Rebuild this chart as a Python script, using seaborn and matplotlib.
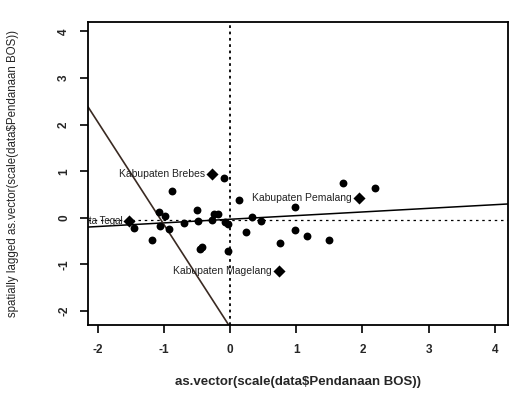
import matplotlib
matplotlib.use("Agg")
import matplotlib.pyplot as plt
import seaborn as sns
import numpy as np
import pandas as pd

# Data
x_vals = [-0.09, -0.88, 0.13, -1.07, -0.98, -0.51, -0.24, -0.18, -1.46, -1.06,
          -0.92, -0.70, -0.48, -0.28, -0.08, -0.04, -1.18, -0.45, -0.43, -0.03,
          0.33, 0.47, 0.24, 0.75, 0.98, 1.16, 0.98, 1.71, 2.19, 1.50]
wx_vals = [0.85, 0.57, 0.39, 0.12, 0.04, 0.17, 0.09, 0.09, -0.22, -0.18,
           -0.23, -0.12, -0.07, -0.05, -0.09, -0.14, -0.48, -0.67, -0.62, -0.72,
           0.02, -0.07, -0.31, -0.54, -0.27, -0.38, 0.24, 0.74, 0.63, -0.48]

infl_names = ["Kabupaten Brebes", "Kota Tegal", "Kabupaten Pemalang", "Kabupaten Magelang"]
infl_x = [-0.28, -1.53, 1.94, 0.73]
infl_wx = [0.95, -0.07, 0.43, -1.15]

reg_intercept, reg_slope = -0.03, 0.078
steep_intercept, steep_slope = -2.35, -2.2
x_mean, wx_mean = 0.0, -0.05

x_ticks = [-2, -1, 0, 1, 2, 3, 4]
y_ticks = [-2, -1, 0, 1, 2, 3, 4]

points = pd.DataFrame({"x": x_vals, "wx": wx_vals})
infl = pd.DataFrame({"name": infl_names, "x": infl_x, "wx": infl_wx})

sns.set_theme(style="ticks")
plt.rcParams['font.family'] = ['Liberation Sans', 'DejaVu Sans']

fig = plt.figure(figsize=(5.09, 3.94), dpi=100)
ax = fig.add_axes([0.173, 0.175, 0.825, 0.769])

sns.scatterplot(data=points, x="x", y="wx", ax=ax, color="black", s=32,
                edgecolor="black", linewidth=0, zorder=3)
sns.scatterplot(data=infl, x="x", y="wx", ax=ax, color="black", marker="D", s=38,
                edgecolor="black", linewidth=0, zorder=3)

for _, r in infl.iterrows():
    ax.text(r["x"] - 0.1, r["wx"], r["name"], fontsize=7 if r["name"] == "Kota Tegal" else 7.5,
            ha="right", va="center", color="#222222", clip_on=True)

ax.axline((0, reg_intercept), slope=reg_slope, color="black", linewidth=1.1)
ax.axline((0, steep_intercept), slope=steep_slope, color="#3a2a22", linewidth=1.2)
ax.axvline(x_mean, color="black", linestyle=(0, (1.5, 2)), linewidth=1.3)
ax.axhline(wx_mean, color="black", linestyle=(0, (2, 3)), linewidth=0.9)

ax.set_xlim(-2.15, 4.2)
ax.set_ylim(-2.3, 4.2)
ax.set_xticks(x_ticks)
ax.set_yticks(y_ticks)
ax.set_xticklabels([str(t) for t in x_ticks], fontsize=8.5, fontweight="bold")
ax.set_yticklabels([str(t) for t in y_ticks], fontsize=8.5, fontweight="bold", rotation=90, va="center")
ax.tick_params(axis="x", direction="out", length=6, width=1.2, color="black", pad=8)
ax.tick_params(axis="y", direction="out", length=6, width=1.2, color="black", pad=7)

for s in ax.spines.values():
    s.set_color("black")
    s.set_linewidth(1.3)

ax.set_xlabel("as.vector(scale(data$Pendanaan BOS))", fontsize=9.5, fontweight="bold", labelpad=14)
ax.set_ylabel("spatially lagged as.vector(scale(data$Pendanaan BOS))", fontsize=8.3, labelpad=28)

fig.savefig("out.png", dpi=100)
